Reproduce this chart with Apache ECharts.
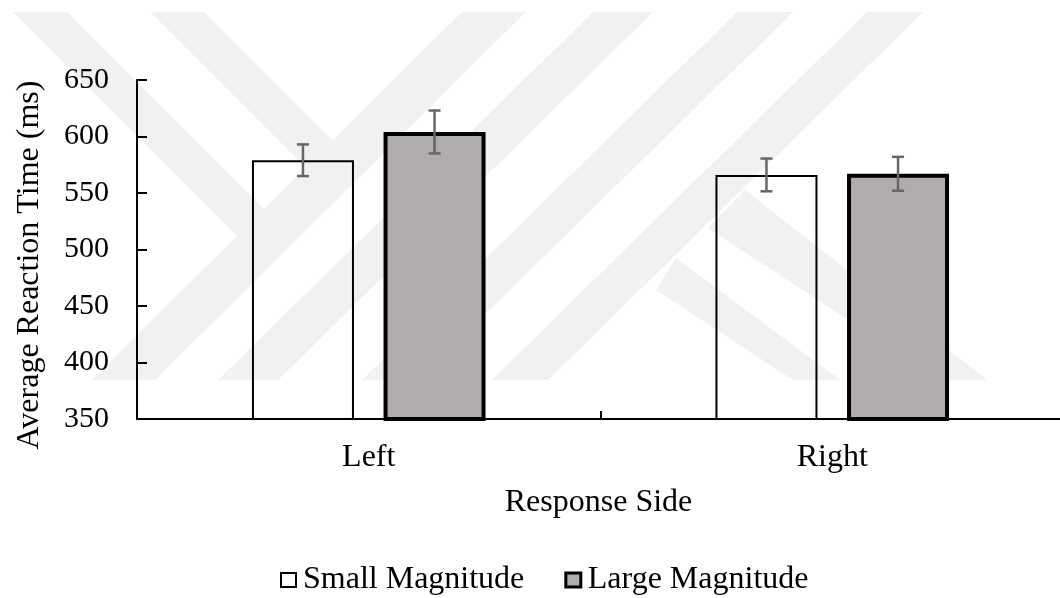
<!DOCTYPE html>
<html>
<head>
<meta charset="utf-8">
<script src="https://cdn.jsdelivr.net/npm/echarts@6/dist/echarts.min.js"></script>
<style>
html,body{margin:0;padding:0;background:#fff;overflow:hidden;width:1060px;height:598px;}
#chart{width:1064px;height:598px;}
</style>
</head>
<body>
<div id="chart"></div>
<script>
// ---- data ----
const categories = ['Left', 'Right'];
const seriesNames = ['Small Magnitude', 'Large Magnitude'];
const smallMag = [579, 566];
const largeMag = [604, 567];
const smallErr = [14, 14.5];
const largeErr = [19, 15];
const yMin = 350, yMax = 650, yStep = 50;
const xAxisTitle = 'Response Side';
const yAxisTitle = 'Average Reaction Time (ms)';

// ---- style ----
const FONT = '"Liberation Serif", "Times New Roman", serif';
const BAR_W = 102, BAR_GAP = 0.29;
const OFFSET = (BAR_W + BAR_W * BAR_GAP) / 2;
const WM = '#f1f1f1';

function errData(vals, errs) {
  return vals.map((v, i) => [i, v, errs[i]]);
}
function errSeries(name, vals, errs, dir) {
  return {
    type: 'custom',
    name: name + ' err',
    z: 5,
    silent: true,
    data: errData(vals, errs),
    renderItem: function (params, api) {
      const x = api.value(0), v = api.value(1), e = api.value(2);
      const hi = api.coord([x, v + e]);
      const lo = api.coord([x, v - e]);
      const cx = hi[0] + dir * OFFSET;
      const cap = 6;
      const st = { stroke: '#666666', lineWidth: 2.5 };
      return {
        type: 'group',
        children: [
          { type: 'line', shape: { x1: cx, y1: hi[1], x2: cx, y2: lo[1] }, style: st },
          { type: 'line', shape: { x1: cx - cap, y1: hi[1], x2: cx + cap, y2: hi[1] }, style: st },
          { type: 'line', shape: { x1: cx - cap, y1: lo[1], x2: cx + cap, y2: lo[1] }, style: st }
        ]
      };
    }
  };
}

// decorative background watermark (thesis logo), drawn behind the chart
const wmPolys = [
  [[13,12],[67,12],[269,214],[242,241]],
  [[150,12],[204,12],[339,147],[311,173]],
  [[462,12],[526,12],[155,380],[92,380]],
  [[593,12],[653,12],[278,380],[218,380]],
  [[737,12],[793,12],[418,380],[362,380]],
  [[867,12],[923,12],[548,380],[492,380]],
  [[745,190],[987,380],[940,380],[708,228]],
  [[676,258],[840,380],[793,380],[656,290]]
];
const graphics = wmPolys.map(p => ({
  type: 'polygon', z: -10, silent: true,
  shape: { points: p }, style: { fill: WM }
}));
graphics.push({
  type: 'text', z: 10, x: 30, y: 265, rotation: Math.PI / 2,
  style: { text: yAxisTitle, font: '32px ' + FONT, fill: '#000', align: 'center', verticalAlign: 'middle' }
});

const chart = echarts.init(document.getElementById('chart'), null, { renderer: 'canvas' });
chart.setOption({
  animation: false,
  backgroundColor: '#ffffff',
  graphic: { elements: graphics },
  grid: { left: 137, right: 0, top: 80, bottom: 179, containLabel: false },
  legend: {
    left: 280, top: 564, padding: 0,
    itemWidth: 15, itemHeight: 14, itemGap: 40,
    icon: 'rect',
    textStyle: { fontFamily: FONT, fontSize: 32, color: '#000', padding: [0, 0, 0, 2] },
    data: [
      { name: seriesNames[0], itemStyle: { color: '#ffffff', borderColor: '#000', borderWidth: 2 } },
      { name: seriesNames[1], itemStyle: { color: '#b0acab', borderColor: '#000', borderWidth: 3 } }
    ]
  },
  xAxis: {
    type: 'category',
    data: categories,
    name: xAxisTitle,
    nameLocation: 'middle',
    nameGap: 68,
    nameTextStyle: { fontFamily: FONT, fontSize: 32, color: '#000', padding: [0, 4, 0, 0] },
    axisLine: { show: true, lineStyle: { color: '#000', width: 2 } },
    axisTick: { show: true, inside: true, length: 8, lineStyle: { color: '#000', width: 2 } },
    axisLabel: { fontFamily: FONT, fontSize: 32, color: '#000', margin: 23 },
    splitLine: { show: false }
  },
  yAxis: {
    type: 'value',
    min: yMin, max: yMax, interval: yStep,
    axisLine: { show: true, lineStyle: { color: '#000', width: 2 } },
    axisTick: { show: true, inside: true, length: 10, lineStyle: { color: '#000', width: 2 } },
    axisLabel: { fontFamily: FONT, fontSize: 30, color: '#000', margin: 28 },
    splitLine: { show: false }
  },
  series: [
    {
      type: 'bar', name: seriesNames[0], data: smallMag,
      barWidth: BAR_W, barGap: (BAR_GAP * 100) + '%',
      itemStyle: { color: 'rgba(255,255,255,0)', borderColor: '#000', borderWidth: 2 },
      z: 2
    },
    {
      type: 'bar', name: seriesNames[1], data: largeMag,
      barWidth: BAR_W, barGap: (BAR_GAP * 100) + '%',
      itemStyle: { color: '#b0acab', borderColor: '#000', borderWidth: 4 },
      z: 2
    },
    errSeries(seriesNames[0], smallMag, smallErr, -1),
    errSeries(seriesNames[1], largeMag, largeErr, 1)
  ]
});
</script>
</body>
</html>
